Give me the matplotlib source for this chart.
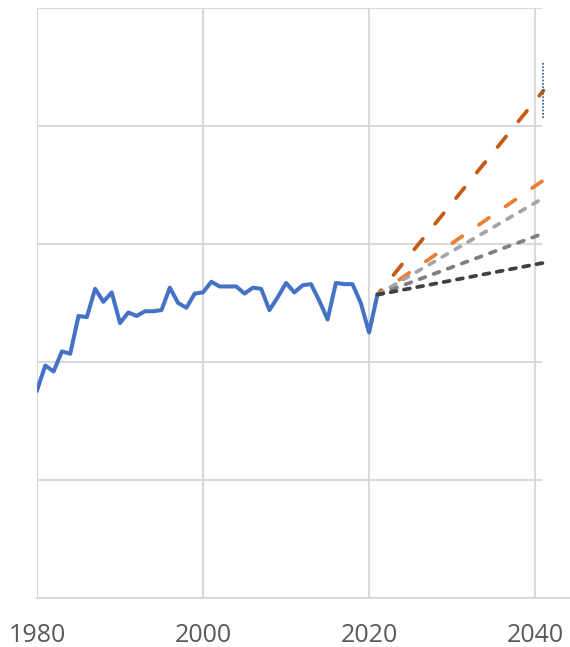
import matplotlib.pyplot as plt

# historical series (blue)
years = list(range(1980, 2022))
values = [1.76, 1.97, 1.92, 2.09, 2.07, 2.39, 2.38, 2.62, 2.51, 2.59,
          2.33, 2.42, 2.39, 2.43, 2.43, 2.44, 2.63, 2.50, 2.46, 2.58,
          2.59, 2.68, 2.64, 2.64, 2.64, 2.58, 2.63, 2.62, 2.44, 2.55,
          2.67, 2.59, 2.65, 2.66, 2.52, 2.36, 2.67, 2.66, 2.66, 2.50,
          2.25, 2.57]

# projections from 2021 to 2041
proj_years = [2021, 2041]
proj_start = 2.57
proj_end = [4.30, 3.54, 3.39, 3.09, 2.84]
proj_colors = ["#C55A11", "#ED7D31", "#A5A5A5", "#7F7F7F", "#404040"]
proj_styles = [(2.0, (3.6, 5.2)), (1.5, (3.2, 5.4)), (0, (1.6, 2.4)),
               (0, (1.6, 2.4)), (0, (1.6, 2.0))]

# blue dotted range at the right edge
range_year = 2041.0
range_low, range_high = 4.07, 4.54

fig = plt.figure(figsize=(5.7, 6.47), dpi=100)
ax = fig.add_axes([37 / 570, 49 / 647, 533 / 570, 590 / 647])

grid_c = "#D9D9D9"
for y in [1, 2, 3, 4, 5]:
    ax.hlines(y, 1980, 2040.8, color=grid_c, lw=1.5, zorder=1)
for x in [2000, 2020, 2040]:
    ax.vlines(x, 0, 5, color=grid_c, lw=1.5, zorder=1)
ax.vlines(1980, 0, 5, color=grid_c, lw=1.5, zorder=1)

ax.plot(years, values, color="#4472C4", lw=2.9, zorder=3,
        solid_joinstyle="round")

for end, c, st in zip(proj_end, proj_colors, proj_styles):
    ax.plot(proj_years, [proj_start, end], color=c, lw=2.7,
            linestyle=st, dash_capstyle="round", zorder=3)

ax.vlines(range_year, range_low, range_high, color="#2F5597", lw=1.2,
          linestyles=(0, (1, 1)), zorder=4)

ax.set_xlim(1980, 2044.2)
ax.set_ylim(0, 5)
ax.set_xticks([1980, 2000, 2020, 2040])
ax.set_yticks([])
ax.tick_params(axis="x", length=0, pad=18, labelsize=18, labelcolor="#595959")
for lab in ax.get_xticklabels():
    lab.set_fontfamily("Open Sans")

for s in ["top", "right", "left"]:
    ax.spines[s].set_visible(False)
ax.spines["bottom"].set_color(grid_c)
ax.spines["bottom"].set_linewidth(1.5)

fig.savefig("out.png", dpi=100)
